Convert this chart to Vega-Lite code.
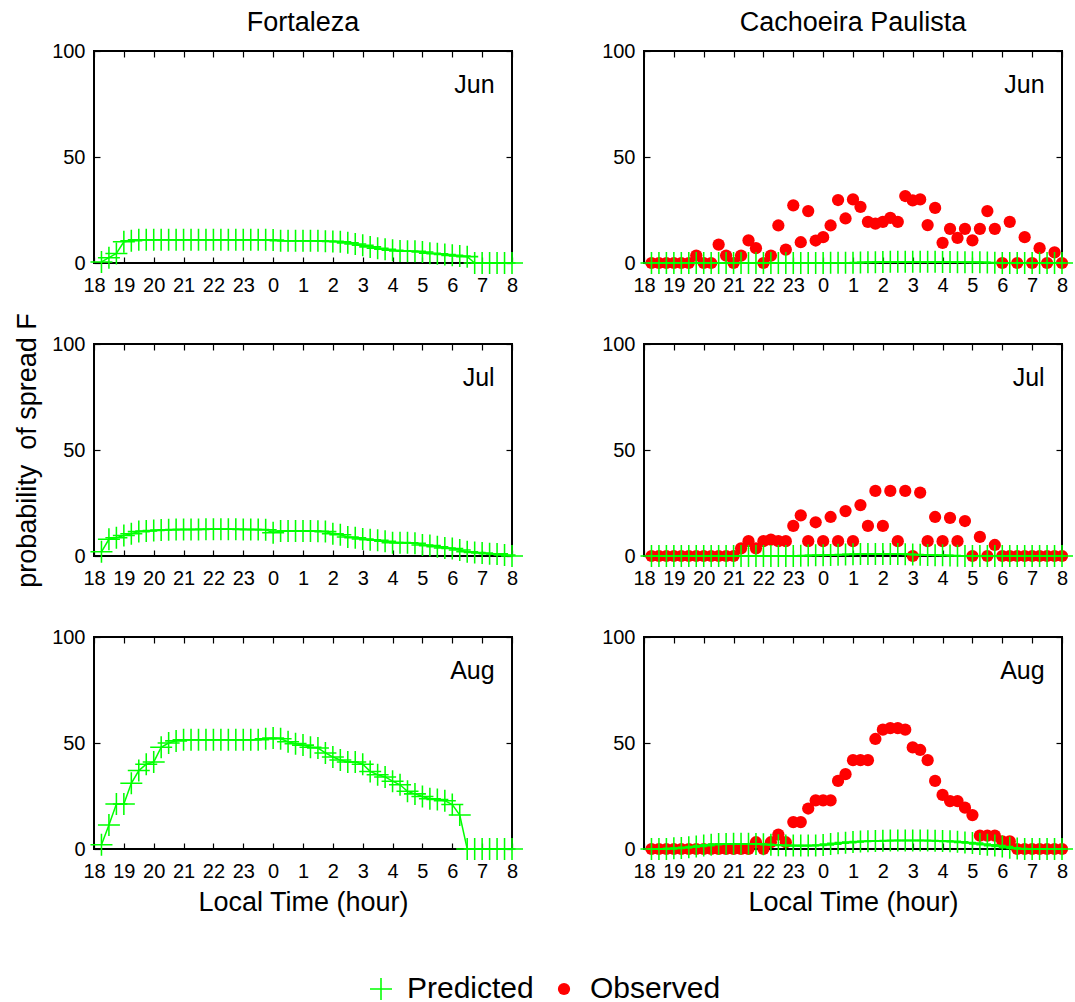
{
"$schema":"https://vega.github.io/schema/vega-lite/v6.json",
"background":"white",
"padding":{"left":12,"top":8,"right":5,"bottom":5},
"config":{
 "font":"Liberation Sans",
 "view":{"stroke":"black","strokeWidth":2},
 "axis":{"grid":false,"domain":false,"labelFont":"Liberation Sans","labelFontSize":20,"labelColor":"black","tickColor":"black","tickWidth":1.2,"titleFont":"Liberation Sans","titleFontWeight":"normal","titleColor":"black","titleFontSize":27},
 "title":{"font":"Liberation Sans","fontSize":27,"fontWeight":"normal","color":"black"},
 "legend":{"orient":"bottom","direction":"horizontal","labelFontSize":30,"labelFont":"Liberation Sans","labelColor":"black","offset":58,"columnPadding":15,"labelOffset":11,"symbolStrokeWidth":0,"layout":{"bottom":{"anchor":"middle"}}}
},
"datasets":{
"fJun":[{"h":18.25,"p":0.5},{"h":18.5,"p":2.5},{"h":18.75,"p":4.5},{"h":19,"p":10},{"h":19.25,"p":10.5},{"h":19.5,"p":11},{"h":19.75,"p":11},{"h":20,"p":11},{"h":20.25,"p":11},{"h":20.5,"p":11},{"h":20.75,"p":11},{"h":21,"p":11},{"h":21.25,"p":11},{"h":21.5,"p":11},{"h":21.75,"p":11},{"h":22,"p":11},{"h":22.25,"p":11},{"h":22.5,"p":11},{"h":22.75,"p":11},{"h":23,"p":11},{"h":23.25,"p":11},{"h":23.5,"p":11},{"h":23.75,"p":11},{"h":24,"p":10.8},{"h":24.25,"p":10.5},{"h":24.5,"p":10.5},{"h":24.75,"p":10.5},{"h":25,"p":10.5},{"h":25.25,"p":10.5},{"h":25.5,"p":10.5},{"h":25.75,"p":10.3},{"h":26,"p":10.2},{"h":26.25,"p":10},{"h":26.5,"p":9.5},{"h":26.75,"p":9},{"h":27,"p":8.4},{"h":27.25,"p":7.6},{"h":27.5,"p":7},{"h":27.75,"p":6.5},{"h":28,"p":6},{"h":28.25,"p":5.7},{"h":28.5,"p":5.5},{"h":28.75,"p":5.5},{"h":29,"p":5.2},{"h":29.25,"p":4.6},{"h":29.5,"p":4.4},{"h":29.75,"p":4},{"h":30,"p":3.6},{"h":30.25,"p":3.3},{"h":30.5,"p":3},{"h":30.75,"p":0},{"h":31,"p":0},{"h":31.25,"p":0},{"h":31.5,"p":0},{"h":31.75,"p":0},{"h":32,"p":0}],
"fJul":[{"h":18.25,"p":2},{"h":18.5,"p":7.9},{"h":18.75,"p":8.6},{"h":19,"p":9.7},{"h":19.25,"p":10.5},{"h":19.5,"p":11.5},{"h":19.75,"p":11.8},{"h":20,"p":12},{"h":20.25,"p":12.3},{"h":20.5,"p":12.4},{"h":20.75,"p":12.5},{"h":21,"p":12.5},{"h":21.25,"p":12.5},{"h":21.5,"p":12.5},{"h":21.75,"p":12.6},{"h":22,"p":12.6},{"h":22.25,"p":12.6},{"h":22.5,"p":12.6},{"h":22.75,"p":12.6},{"h":23,"p":12.5},{"h":23.25,"p":12.5},{"h":23.5,"p":12.5},{"h":23.75,"p":12.4},{"h":24,"p":11},{"h":24.25,"p":11.8},{"h":24.5,"p":11.8},{"h":24.75,"p":11.8},{"h":25,"p":11.8},{"h":25.25,"p":11.8},{"h":25.5,"p":11.7},{"h":25.75,"p":11.5},{"h":26,"p":10.5},{"h":26.25,"p":10},{"h":26.5,"p":9},{"h":26.75,"p":8.6},{"h":27,"p":8},{"h":27.25,"p":7.7},{"h":27.5,"p":7.4},{"h":27.75,"p":7},{"h":28,"p":6.3},{"h":28.25,"p":6.3},{"h":28.5,"p":6.2},{"h":28.75,"p":6},{"h":29,"p":5.2},{"h":29.25,"p":4.9},{"h":29.5,"p":4.4},{"h":29.75,"p":3.8},{"h":30,"p":3.5},{"h":30.25,"p":2.8},{"h":30.5,"p":2},{"h":30.75,"p":1.7},{"h":31,"p":1.4},{"h":31.25,"p":1.1},{"h":31.5,"p":1},{"h":31.75,"p":0.5},{"h":32,"p":0}],
"fAug":[{"h":18.25,"p":2},{"h":18.5,"p":11.3},{"h":18.75,"p":21.2},{"h":19,"p":21.2},{"h":19.25,"p":31},{"h":19.5,"p":37},{"h":19.75,"p":40},{"h":20,"p":41},{"h":20.25,"p":48},{"h":20.5,"p":50},{"h":20.75,"p":51},{"h":21,"p":51.5},{"h":21.25,"p":51.5},{"h":21.5,"p":51.5},{"h":21.75,"p":51.5},{"h":22,"p":51.5},{"h":22.25,"p":51.5},{"h":22.5,"p":51.5},{"h":22.75,"p":51.5},{"h":23,"p":51.5},{"h":23.25,"p":51.5},{"h":23.5,"p":51.5},{"h":23.75,"p":52},{"h":24,"p":52.4},{"h":24.25,"p":52},{"h":24.5,"p":50.6},{"h":24.75,"p":49.7},{"h":25,"p":49},{"h":25.25,"p":48},{"h":25.5,"p":47.6},{"h":25.75,"p":45.3},{"h":26,"p":43.4},{"h":26.25,"p":42},{"h":26.5,"p":41},{"h":26.75,"p":41},{"h":27,"p":40},{"h":27.25,"p":36.6},{"h":27.5,"p":35},{"h":27.75,"p":34},{"h":28,"p":32},{"h":28.25,"p":30.3},{"h":28.5,"p":27.2},{"h":28.75,"p":26},{"h":29,"p":24.8},{"h":29.25,"p":23.7},{"h":29.5,"p":23.3},{"h":29.75,"p":22.8},{"h":30,"p":21},{"h":30.25,"p":16},{"h":30.5,"p":0},{"h":30.75,"p":0},{"h":31,"p":0},{"h":31.25,"p":0},{"h":31.5,"p":0},{"h":31.75,"p":0},{"h":32,"p":0}],
"cJun":[{"h":18.25,"p":0,"o":0},{"h":18.5,"p":0,"o":0},{"h":18.75,"p":0,"o":0},{"h":19,"p":0,"o":0},{"h":19.25,"p":0,"o":0},{"h":19.5,"p":0,"o":0},{"h":19.75,"p":0,"o":3.5},{"h":20,"p":0,"o":0},{"h":20.25,"p":0,"o":0},{"h":20.5,"p":0,"o":8.7},{"h":20.75,"p":0,"o":3.5},{"h":21,"p":0,"o":0},{"h":21.25,"p":0,"o":3.5},{"h":21.5,"p":0,"o":10.7},{"h":21.75,"p":0,"o":7},{"h":22,"p":0,"o":0},{"h":22.25,"p":0,"o":3.5},{"h":22.5,"p":0,"o":17.7},{"h":22.75,"p":0,"o":6.3},{"h":23,"p":0,"o":27.2},{"h":23.25,"p":0,"o":9.8},{"h":23.5,"p":0,"o":24.5},{"h":23.75,"p":0,"o":10.6},{"h":24,"p":0,"o":12.2},{"h":24.25,"p":0.1,"o":17.7},{"h":24.5,"p":0.1,"o":29.7},{"h":24.75,"p":0.1,"o":21},{"h":25,"p":0.1,"o":30},{"h":25.25,"p":0.2,"o":26.5},{"h":25.5,"p":0.3,"o":19.4},{"h":25.75,"p":0.4,"o":18.6},{"h":26,"p":0.5,"o":19.4},{"h":26.25,"p":0.6,"o":21.3},{"h":26.5,"p":0.6,"o":19.4},{"h":26.75,"p":0.6,"o":31.6},{"h":27,"p":0.6,"o":29.5},{"h":27.25,"p":0.6,"o":30},{"h":27.5,"p":0.6,"o":17.9},{"h":27.75,"p":0.6,"o":26},{"h":28,"p":0.5,"o":9.5},{"h":28.25,"p":0.5,"o":16.1},{"h":28.5,"p":0.4,"o":11.8},{"h":28.75,"p":0.4,"o":16.1},{"h":29,"p":0.3,"o":10.7},{"h":29.25,"p":0.3,"o":16.1},{"h":29.5,"p":0.2,"o":24.5},{"h":29.75,"p":0.1,"o":16.1},{"h":30,"p":0,"o":0},{"h":30.25,"p":0,"o":19.4},{"h":30.5,"p":0,"o":0},{"h":30.75,"p":0,"o":12.2},{"h":31,"p":0,"o":0},{"h":31.25,"p":0,"o":7},{"h":31.5,"p":0,"o":0},{"h":31.75,"p":0,"o":5},{"h":32,"p":0,"o":0}],
"cJul":[{"h":18.25,"p":0,"o":0},{"h":18.5,"p":0,"o":0},{"h":18.75,"p":0,"o":0},{"h":19,"p":0,"o":0},{"h":19.25,"p":0,"o":0},{"h":19.5,"p":0,"o":0},{"h":19.75,"p":0,"o":0},{"h":20,"p":0,"o":0},{"h":20.25,"p":0,"o":0},{"h":20.5,"p":0,"o":0},{"h":20.75,"p":0,"o":0},{"h":21,"p":0,"o":0},{"h":21.25,"p":0,"o":3.6},{"h":21.5,"p":0,"o":7},{"h":21.75,"p":0,"o":3.6},{"h":22,"p":0,"o":7},{"h":22.25,"p":0,"o":7.7},{"h":22.5,"p":0,"o":7},{"h":22.75,"p":0,"o":7},{"h":23,"p":0,"o":14.2},{"h":23.25,"p":0.1,"o":19.2},{"h":23.5,"p":0.2,"o":7},{"h":23.75,"p":0.3,"o":15.9},{"h":24,"p":0.4,"o":7},{"h":24.25,"p":0.5,"o":18.4},{"h":24.5,"p":0.6,"o":7},{"h":24.75,"p":0.7,"o":21.2},{"h":25,"p":0.8,"o":7},{"h":25.25,"p":0.9,"o":24},{"h":25.5,"p":0.9,"o":14.2},{"h":25.75,"p":0.9,"o":30.7},{"h":26,"p":0.9,"o":14.2},{"h":26.25,"p":0.9,"o":30.7},{"h":26.5,"p":0.9,"o":7},{"h":26.75,"p":0.8,"o":30.7},{"h":27,"p":0.7,"o":0},{"h":27.25,"p":0.6,"o":29.9},{"h":27.5,"p":0.5,"o":7},{"h":27.75,"p":0.4,"o":18.4},{"h":28,"p":0.3,"o":7},{"h":28.25,"p":0.2,"o":18},{"h":28.5,"p":0.1,"o":7},{"h":28.75,"p":0,"o":16.5},{"h":29,"p":0,"o":0},{"h":29.25,"p":0,"o":9},{"h":29.5,"p":0,"o":0},{"h":29.75,"p":0,"o":5.2},{"h":30,"p":0,"o":0},{"h":30.25,"p":0,"o":0},{"h":30.5,"p":0,"o":0},{"h":30.75,"p":0,"o":0},{"h":31,"p":0,"o":0},{"h":31.25,"p":0,"o":0},{"h":31.5,"p":0,"o":0},{"h":31.75,"p":0,"o":0},{"h":32,"p":0,"o":0}],
"cAug":[{"h":18.25,"p":0,"o":0},{"h":18.5,"p":0,"o":0},{"h":18.75,"p":0,"o":0},{"h":19,"p":0.3,"o":0},{"h":19.25,"p":0.5,"o":0},{"h":19.5,"p":0.8,"o":0},{"h":19.75,"p":1.2,"o":0},{"h":20,"p":1.6,"o":0},{"h":20.25,"p":2,"o":0},{"h":20.5,"p":2.3,"o":0},{"h":20.75,"p":2.4,"o":0},{"h":21,"p":2.5,"o":0},{"h":21.25,"p":2.5,"o":0},{"h":21.5,"p":2.5,"o":0},{"h":21.75,"p":2.4,"o":3.2},{"h":22,"p":2.2,"o":0},{"h":22.25,"p":2,"o":3.2},{"h":22.5,"p":1.8,"o":6.8},{"h":22.75,"p":1.7,"o":3.2},{"h":23,"p":1.6,"o":12.7},{"h":23.25,"p":1.6,"o":12.7},{"h":23.5,"p":1.6,"o":19.1},{"h":23.75,"p":1.7,"o":22.9},{"h":24,"p":1.9,"o":22.9},{"h":24.25,"p":2.3,"o":22.9},{"h":24.5,"p":2.7,"o":32.1},{"h":24.75,"p":3,"o":35.3},{"h":25,"p":3.3,"o":41.9},{"h":25.25,"p":3.5,"o":41.9},{"h":25.5,"p":3.7,"o":41.9},{"h":25.75,"p":3.8,"o":51.9},{"h":26,"p":3.9,"o":56.3},{"h":26.25,"p":4,"o":57},{"h":26.5,"p":4,"o":57},{"h":26.75,"p":4,"o":56.3},{"h":27,"p":4,"o":47.9},{"h":27.25,"p":4,"o":46.7},{"h":27.5,"p":4,"o":41.9},{"h":27.75,"p":3.9,"o":32.1},{"h":28,"p":3.8,"o":25.5},{"h":28.25,"p":3.6,"o":22.6},{"h":28.5,"p":3.4,"o":22.6},{"h":28.75,"p":3.1,"o":19.5},{"h":29,"p":2.8,"o":16},{"h":29.25,"p":2.4,"o":6.3},{"h":29.5,"p":2,"o":6.3},{"h":29.75,"p":1.6,"o":6.3},{"h":30,"p":1.2,"o":3.6},{"h":30.25,"p":0.6,"o":3.6},{"h":30.5,"p":0.2,"o":0},{"h":30.75,"p":0,"o":0},{"h":31,"p":0,"o":0},{"h":31.25,"p":0,"o":0},{"h":31.5,"p":0,"o":0},{"h":31.75,"p":0,"o":0},{"h":32,"p":0,"o":0}]
},
"columns":2,
"spacing":{"row":81,"column":132},
"bounds":"flush",
"resolve":{"scale":{"color":"shared","shape":"shared","size":"shared"}},
"concat":[
{"width":418,"height":212,"title":{"text":"Fortaleza","offset":4},"data":{"name":"fJun"},
"layer":[
{"mark":{"type":"line","color":"#00ff00","strokeWidth":1.5,"clip":false},"encoding":{"x":{"field":"h","type":"quantitative","scale":{"domain":[18,32],"nice":false,"zero":false},"axis":{"orient":"bottom","values":[18,19,20,21,22,23,24,25,26,27,28,29,30,31,32],"labelExpr":"datum.value >= 24 ? datum.value - 24 : datum.value","tickSize":-6,"labelPadding":18,"labelFlush":false,"labelOverlap":false,"title":null}},"y":{"field":"p","type":"quantitative","scale":{"domain":[0,100],"nice":false},"axis":{"orient":"left","values":[0,50,100],"tickSize":-6,"labelPadding":15,"labelFlush":false,"title":null}}}},
{"mark":{"type":"point","filled":true,"opacity":1,"clip":false},"encoding":{"x":{"field":"h","type":"quantitative","scale":{"domain":[18,32],"nice":false,"zero":false},"axis":{"orient":"top","values":[18,19,20,21,22,23,24,25,26,27,28,29,30,31,32],"labels":false,"tickSize":-6,"title":null}},"y":{"field":"p","type":"quantitative","scale":{"domain":[0,100],"nice":false},"axis":{"orient":"right","values":[0,50,100],"labels":false,"tickSize":-6,"title":null}},"color":{"datum":"Predicted","scale":{"domain":["Predicted","Observed"],"range":["#00ff00","#ff0000"]},"legend":{"title":null}},"shape":{"datum":"Predicted","scale":{"domain":["Predicted","Observed"],"range":["M-1,-0.07H1V0.07H-1Z M-0.07,-1H0.07V1H-0.07Z","circle"]},"legend":{"title":null}},"size":{"datum":"Predicted","scale":{"type":"ordinal","domain":["Predicted","Observed"],"range":[484,150]},"legend":{"title":null}}}},
{"data":{"values":[{"label":"Jun"}]},"mark":{"type":"text","align":"right","baseline":"middle","fontSize":25,"color":"black","clip":false},"encoding":{"x":{"datum":31.42,"type":"quantitative","axis":null},"y":{"datum":84,"type":"quantitative","axis":null},"text":{"field":"label"}}}
],"resolve":{"axis":{"x":"independent","y":"independent"}}},
{"width":418,"height":212,"title":{"text":"Cachoeira Paulista","offset":4},"data":{"name":"cJun"},
"layer":[
{"mark":{"type":"point","filled":true,"opacity":1,"clip":false},"encoding":{"x":{"field":"h","type":"quantitative","scale":{"domain":[18,32],"nice":false,"zero":false},"axis":null},"y":{"field":"o","type":"quantitative","scale":{"domain":[0,100],"nice":false},"axis":null},"color":{"datum":"Observed","scale":{"domain":["Predicted","Observed"],"range":["#00ff00","#ff0000"]},"legend":{"title":null}},"shape":{"datum":"Observed","scale":{"domain":["Predicted","Observed"],"range":["M-1,-0.07H1V0.07H-1Z M-0.07,-1H0.07V1H-0.07Z","circle"]},"legend":{"title":null}},"size":{"datum":"Observed","scale":{"type":"ordinal","domain":["Predicted","Observed"],"range":[484,150]},"legend":{"title":null}}}},
{"mark":{"type":"line","color":"#00ff00","strokeWidth":1.5,"clip":false},"encoding":{"x":{"field":"h","type":"quantitative","scale":{"domain":[18,32],"nice":false,"zero":false},"axis":{"orient":"bottom","values":[18,19,20,21,22,23,24,25,26,27,28,29,30,31,32],"labelExpr":"datum.value >= 24 ? datum.value - 24 : datum.value","tickSize":-6,"labelPadding":18,"labelFlush":false,"labelOverlap":false,"title":null}},"y":{"field":"p","type":"quantitative","scale":{"domain":[0,100],"nice":false},"axis":{"orient":"left","values":[0,50,100],"tickSize":-6,"labelPadding":15,"labelFlush":false,"title":null}}}},
{"mark":{"type":"point","filled":true,"opacity":1,"clip":false},"encoding":{"x":{"field":"h","type":"quantitative","scale":{"domain":[18,32],"nice":false,"zero":false},"axis":{"orient":"top","values":[18,19,20,21,22,23,24,25,26,27,28,29,30,31,32],"labels":false,"tickSize":-6,"title":null}},"y":{"field":"p","type":"quantitative","scale":{"domain":[0,100],"nice":false},"axis":{"orient":"right","values":[0,50,100],"labels":false,"tickSize":-6,"title":null}},"color":{"datum":"Predicted","scale":{"domain":["Predicted","Observed"],"range":["#00ff00","#ff0000"]},"legend":{"title":null}},"shape":{"datum":"Predicted","scale":{"domain":["Predicted","Observed"],"range":["M-1,-0.07H1V0.07H-1Z M-0.07,-1H0.07V1H-0.07Z","circle"]},"legend":{"title":null}},"size":{"datum":"Predicted","scale":{"type":"ordinal","domain":["Predicted","Observed"],"range":[484,150]},"legend":{"title":null}}}},
{"data":{"values":[{"label":"Jun"}]},"mark":{"type":"text","align":"right","baseline":"middle","fontSize":25,"color":"black","clip":false},"encoding":{"x":{"datum":31.42,"type":"quantitative","axis":null},"y":{"datum":84,"type":"quantitative","axis":null},"text":{"field":"label"}}}
],"resolve":{"axis":{"x":"independent","y":"independent"}}},
{"width":418,"height":212,"data":{"name":"fJul"},
"layer":[
{"mark":{"type":"line","color":"#00ff00","strokeWidth":1.5,"clip":false},"encoding":{"x":{"field":"h","type":"quantitative","scale":{"domain":[18,32],"nice":false,"zero":false},"axis":{"orient":"bottom","values":[18,19,20,21,22,23,24,25,26,27,28,29,30,31,32],"labelExpr":"datum.value >= 24 ? datum.value - 24 : datum.value","tickSize":-6,"labelPadding":18,"labelFlush":false,"labelOverlap":false,"title":null}},"y":{"field":"p","type":"quantitative","scale":{"domain":[0,100],"nice":false},"axis":{"orient":"left","values":[0,50,100],"tickSize":-6,"labelPadding":15,"labelFlush":false,"title":"probability \u00a0of spread F","titlePadding":10}}}},
{"mark":{"type":"point","filled":true,"opacity":1,"clip":false},"encoding":{"x":{"field":"h","type":"quantitative","scale":{"domain":[18,32],"nice":false,"zero":false},"axis":{"orient":"top","values":[18,19,20,21,22,23,24,25,26,27,28,29,30,31,32],"labels":false,"tickSize":-6,"title":null}},"y":{"field":"p","type":"quantitative","scale":{"domain":[0,100],"nice":false},"axis":{"orient":"right","values":[0,50,100],"labels":false,"tickSize":-6,"title":null}},"color":{"datum":"Predicted","scale":{"domain":["Predicted","Observed"],"range":["#00ff00","#ff0000"]},"legend":{"title":null}},"shape":{"datum":"Predicted","scale":{"domain":["Predicted","Observed"],"range":["M-1,-0.07H1V0.07H-1Z M-0.07,-1H0.07V1H-0.07Z","circle"]},"legend":{"title":null}},"size":{"datum":"Predicted","scale":{"type":"ordinal","domain":["Predicted","Observed"],"range":[484,150]},"legend":{"title":null}}}},
{"data":{"values":[{"label":"Jul"}]},"mark":{"type":"text","align":"right","baseline":"middle","fontSize":25,"color":"black","clip":false},"encoding":{"x":{"datum":31.42,"type":"quantitative","axis":null},"y":{"datum":84,"type":"quantitative","axis":null},"text":{"field":"label"}}}
],"resolve":{"axis":{"x":"independent","y":"independent"}}},
{"width":418,"height":212,"data":{"name":"cJul"},
"layer":[
{"mark":{"type":"point","filled":true,"opacity":1,"clip":false},"encoding":{"x":{"field":"h","type":"quantitative","scale":{"domain":[18,32],"nice":false,"zero":false},"axis":null},"y":{"field":"o","type":"quantitative","scale":{"domain":[0,100],"nice":false},"axis":null},"color":{"datum":"Observed","scale":{"domain":["Predicted","Observed"],"range":["#00ff00","#ff0000"]},"legend":{"title":null}},"shape":{"datum":"Observed","scale":{"domain":["Predicted","Observed"],"range":["M-1,-0.07H1V0.07H-1Z M-0.07,-1H0.07V1H-0.07Z","circle"]},"legend":{"title":null}},"size":{"datum":"Observed","scale":{"type":"ordinal","domain":["Predicted","Observed"],"range":[484,150]},"legend":{"title":null}}}},
{"mark":{"type":"line","color":"#00ff00","strokeWidth":1.5,"clip":false},"encoding":{"x":{"field":"h","type":"quantitative","scale":{"domain":[18,32],"nice":false,"zero":false},"axis":{"orient":"bottom","values":[18,19,20,21,22,23,24,25,26,27,28,29,30,31,32],"labelExpr":"datum.value >= 24 ? datum.value - 24 : datum.value","tickSize":-6,"labelPadding":18,"labelFlush":false,"labelOverlap":false,"title":null}},"y":{"field":"p","type":"quantitative","scale":{"domain":[0,100],"nice":false},"axis":{"orient":"left","values":[0,50,100],"tickSize":-6,"labelPadding":15,"labelFlush":false,"title":null}}}},
{"mark":{"type":"point","filled":true,"opacity":1,"clip":false},"encoding":{"x":{"field":"h","type":"quantitative","scale":{"domain":[18,32],"nice":false,"zero":false},"axis":{"orient":"top","values":[18,19,20,21,22,23,24,25,26,27,28,29,30,31,32],"labels":false,"tickSize":-6,"title":null}},"y":{"field":"p","type":"quantitative","scale":{"domain":[0,100],"nice":false},"axis":{"orient":"right","values":[0,50,100],"labels":false,"tickSize":-6,"title":null}},"color":{"datum":"Predicted","scale":{"domain":["Predicted","Observed"],"range":["#00ff00","#ff0000"]},"legend":{"title":null}},"shape":{"datum":"Predicted","scale":{"domain":["Predicted","Observed"],"range":["M-1,-0.07H1V0.07H-1Z M-0.07,-1H0.07V1H-0.07Z","circle"]},"legend":{"title":null}},"size":{"datum":"Predicted","scale":{"type":"ordinal","domain":["Predicted","Observed"],"range":[484,150]},"legend":{"title":null}}}},
{"data":{"values":[{"label":"Jul"}]},"mark":{"type":"text","align":"right","baseline":"middle","fontSize":25,"color":"black","clip":false},"encoding":{"x":{"datum":31.42,"type":"quantitative","axis":null},"y":{"datum":84,"type":"quantitative","axis":null},"text":{"field":"label"}}}
],"resolve":{"axis":{"x":"independent","y":"independent"}}},
{"width":418,"height":212,"data":{"name":"fAug"},
"layer":[
{"mark":{"type":"line","color":"#00ff00","strokeWidth":1.5,"clip":false},"encoding":{"x":{"field":"h","type":"quantitative","scale":{"domain":[18,32],"nice":false,"zero":false},"axis":{"orient":"bottom","values":[18,19,20,21,22,23,24,25,26,27,28,29,30,31,32],"labelExpr":"datum.value >= 24 ? datum.value - 24 : datum.value","tickSize":-6,"labelPadding":18,"labelFlush":false,"labelOverlap":false,"title":"Local Time (hour)","titlePadding":8}},"y":{"field":"p","type":"quantitative","scale":{"domain":[0,100],"nice":false},"axis":{"orient":"left","values":[0,50,100],"tickSize":-6,"labelPadding":15,"labelFlush":false,"title":null}}}},
{"mark":{"type":"point","filled":true,"opacity":1,"clip":false},"encoding":{"x":{"field":"h","type":"quantitative","scale":{"domain":[18,32],"nice":false,"zero":false},"axis":{"orient":"top","values":[18,19,20,21,22,23,24,25,26,27,28,29,30,31,32],"labels":false,"tickSize":-6,"title":null}},"y":{"field":"p","type":"quantitative","scale":{"domain":[0,100],"nice":false},"axis":{"orient":"right","values":[0,50,100],"labels":false,"tickSize":-6,"title":null}},"color":{"datum":"Predicted","scale":{"domain":["Predicted","Observed"],"range":["#00ff00","#ff0000"]},"legend":{"title":null}},"shape":{"datum":"Predicted","scale":{"domain":["Predicted","Observed"],"range":["M-1,-0.07H1V0.07H-1Z M-0.07,-1H0.07V1H-0.07Z","circle"]},"legend":{"title":null}},"size":{"datum":"Predicted","scale":{"type":"ordinal","domain":["Predicted","Observed"],"range":[484,150]},"legend":{"title":null}}}},
{"data":{"values":[{"label":"Aug"}]},"mark":{"type":"text","align":"right","baseline":"middle","fontSize":25,"color":"black","clip":false},"encoding":{"x":{"datum":31.42,"type":"quantitative","axis":null},"y":{"datum":84,"type":"quantitative","axis":null},"text":{"field":"label"}}}
],"resolve":{"axis":{"x":"independent","y":"independent"}}},
{"width":418,"height":212,"data":{"name":"cAug"},
"layer":[
{"mark":{"type":"point","filled":true,"opacity":1,"clip":false},"encoding":{"x":{"field":"h","type":"quantitative","scale":{"domain":[18,32],"nice":false,"zero":false},"axis":null},"y":{"field":"o","type":"quantitative","scale":{"domain":[0,100],"nice":false},"axis":null},"color":{"datum":"Observed","scale":{"domain":["Predicted","Observed"],"range":["#00ff00","#ff0000"]},"legend":{"title":null}},"shape":{"datum":"Observed","scale":{"domain":["Predicted","Observed"],"range":["M-1,-0.07H1V0.07H-1Z M-0.07,-1H0.07V1H-0.07Z","circle"]},"legend":{"title":null}},"size":{"datum":"Observed","scale":{"type":"ordinal","domain":["Predicted","Observed"],"range":[484,150]},"legend":{"title":null}}}},
{"mark":{"type":"line","color":"#00ff00","strokeWidth":1.5,"clip":false},"encoding":{"x":{"field":"h","type":"quantitative","scale":{"domain":[18,32],"nice":false,"zero":false},"axis":{"orient":"bottom","values":[18,19,20,21,22,23,24,25,26,27,28,29,30,31,32],"labelExpr":"datum.value >= 24 ? datum.value - 24 : datum.value","tickSize":-6,"labelPadding":18,"labelFlush":false,"labelOverlap":false,"title":"Local Time (hour)","titlePadding":8}},"y":{"field":"p","type":"quantitative","scale":{"domain":[0,100],"nice":false},"axis":{"orient":"left","values":[0,50,100],"tickSize":-6,"labelPadding":15,"labelFlush":false,"title":null}}}},
{"mark":{"type":"point","filled":true,"opacity":1,"clip":false},"encoding":{"x":{"field":"h","type":"quantitative","scale":{"domain":[18,32],"nice":false,"zero":false},"axis":{"orient":"top","values":[18,19,20,21,22,23,24,25,26,27,28,29,30,31,32],"labels":false,"tickSize":-6,"title":null}},"y":{"field":"p","type":"quantitative","scale":{"domain":[0,100],"nice":false},"axis":{"orient":"right","values":[0,50,100],"labels":false,"tickSize":-6,"title":null}},"color":{"datum":"Predicted","scale":{"domain":["Predicted","Observed"],"range":["#00ff00","#ff0000"]},"legend":{"title":null}},"shape":{"datum":"Predicted","scale":{"domain":["Predicted","Observed"],"range":["M-1,-0.07H1V0.07H-1Z M-0.07,-1H0.07V1H-0.07Z","circle"]},"legend":{"title":null}},"size":{"datum":"Predicted","scale":{"type":"ordinal","domain":["Predicted","Observed"],"range":[484,150]},"legend":{"title":null}}}},
{"data":{"values":[{"label":"Aug"}]},"mark":{"type":"text","align":"right","baseline":"middle","fontSize":25,"color":"black","clip":false},"encoding":{"x":{"datum":31.42,"type":"quantitative","axis":null},"y":{"datum":84,"type":"quantitative","axis":null},"text":{"field":"label"}}}
],"resolve":{"axis":{"x":"independent","y":"independent"}}}
]
}
